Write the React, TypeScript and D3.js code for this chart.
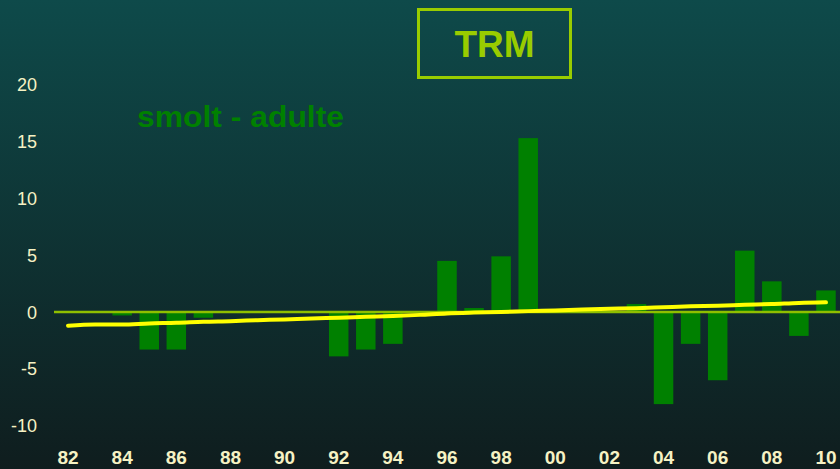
import React from "react";
import * as d3 from "d3";

const years: number[] = [
  1982, 1983, 1984, 1985, 1986, 1987, 1988, 1989, 1990, 1991, 1992, 1993, 1994, 1995,
  1996, 1997, 1998, 1999, 2000, 2001, 2002, 2003, 2004, 2005, 2006, 2007, 2008, 2009, 2010,
];
const values: number[] = [
  0, 0, -0.3, -3.3, -3.3, -0.5, 0, 0, 0, 0, -3.9, -3.3, -2.8, 0,
  4.5, 0.35, 4.9, 15.3, 0, 0, 0, 0.7, -8.1, -2.8, -6.0, 5.4, 2.7, -2.1, 1.9,
];
const trend: number[] = [
  -1.2, -1.1, -1.1, -1.0, -0.95, -0.85, -0.8, -0.72, -0.65, -0.56, -0.5, -0.42, -0.35, -0.25,
  -0.12, -0.05, 0.0, 0.08, 0.14, 0.22, 0.28, 0.34, 0.42, 0.5, 0.55, 0.63, 0.7, 0.8, 0.85,
];
const yTicks: number[] = [-10, -5, 0, 5, 10, 15, 20];
const xTickYears: number[] = [1982, 1984, 1986, 1988, 1990, 1992, 1994, 1996, 1998, 2000, 2002, 2004, 2006, 2008, 2010];
const title = "TRM";
const subtitle = "smolt - adulte";

const W = 840;
const H = 469;

export default function App() {
  const x = d3.scaleBand<number>().domain(years).range([54.5, 839.5]).paddingInner(0.28).paddingOuter(0.14);
  const y = d3.scaleLinear().domain([-10, 20]).range([425.7, 84.7]);
  const cx = (yr: number) => (x(yr) as number) + x.bandwidth() / 2;
  const line = d3
    .line<number>()
    .x((_, i) => cx(years[i]))
    .y((d) => y(d))
    .curve(d3.curveMonotoneX);
  const labelColor = "#f6f2c4";
  const font = "'Liberation Sans', Arial, sans-serif";
  return (
    <svg width={W} height={H} style={{ position: "fixed", left: 0, top: 0, display: "block" }}>
      <defs>
        <linearGradient id="bg" x1="0" y1="0" x2="0" y2="1">
          <stop offset="0" stopColor="#0e4a4a" />
          <stop offset="1" stopColor="#0f1d1e" />
        </linearGradient>
      </defs>
      <rect x={0} y={0} width={W} height={H} fill="url(#bg)" />
      {/* bars */}
      {years.map((yr, i) =>
        values[i] === 0 ? null : (
          <rect
            key={yr}
            x={x(yr)}
            width={x.bandwidth()}
            y={Math.min(y(0), y(values[i]))}
            height={Math.abs(y(values[i]) - y(0))}
            fill="#008000"
          />
        )
      )}
      {/* zero line */}
      <line x1={54} x2={W} y1={y(0)} y2={y(0)} stroke="#8fbf00" strokeWidth={2.5} />
      {/* trend */}
      <path d={line(trend) || ""} fill="none" stroke="#ffff00" strokeWidth={4} strokeLinecap="round" />
      {/* y ticks */}
      {yTicks.map((t) => (
        <text key={t} x={37} y={y(t) + 6.5} textAnchor="end" fill={labelColor} fontFamily={font} fontSize={18}>
          {t}
        </text>
      ))}
      {/* x ticks */}
      {xTickYears.map((yr) => (
        <text key={yr} x={cx(yr)} y={464} textAnchor="middle" fill={labelColor} fontFamily={font} fontSize={19} fontWeight="bold">
          {String(yr % 100).padStart(2, "0")}
        </text>
      ))}
      {/* title box */}
      <rect x={418.5} y={9.5} width={152} height={68} fill="none" stroke="#99cc00" strokeWidth={3} />
      <text x={494.5} y={57} textAnchor="middle" fill="#99cc00" fontFamily={font} fontSize={37} fontWeight="bold">
        {title}
      </text>
      <text x={137} y={127} fill="#008000" fontFamily={font} fontSize={29} fontWeight="bold" textLength={207} lengthAdjust="spacingAndGlyphs">
        {subtitle}
      </text>
    </svg>
  );
}
